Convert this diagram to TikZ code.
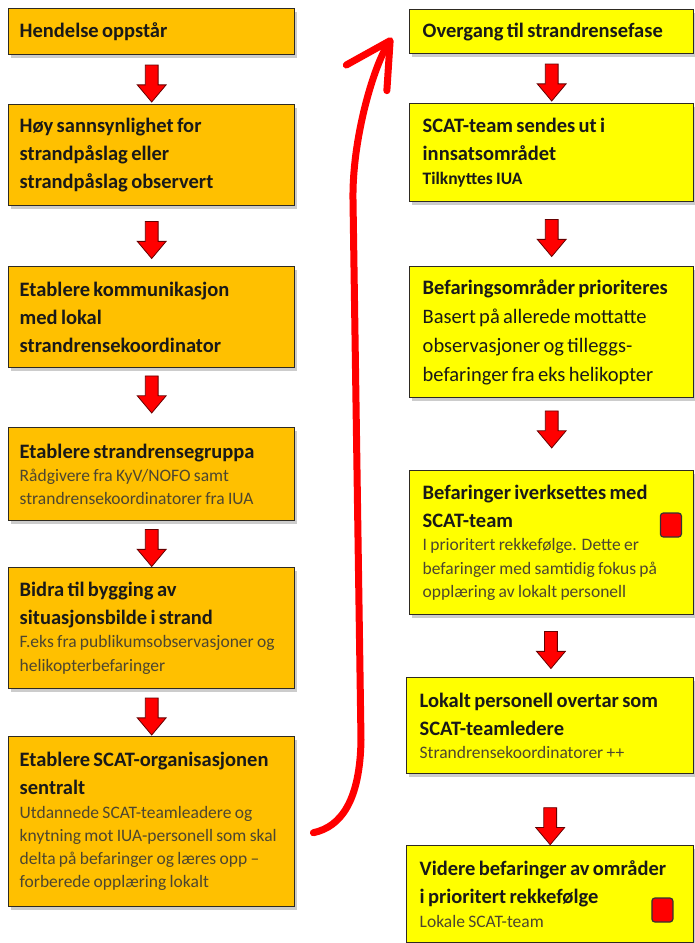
\documentclass[tikz,border=0pt]{standalone}
\usepackage{fontspec}
\setmainfont{Carlito}
\usetikzlibrary{shapes.arrows,shadows,arrows.meta,calc}
\definecolor{boxorange}{HTML}{FFC000}
\definecolor{boxyellow}{HTML}{FFFF00}
\definecolor{boxline}{HTML}{2E2A22}
\definecolor{notegray}{HTML}{4D4630}
\newcommand\headfont{\fontsize{20.5}{28}\selectfont\bfseries}
\newcommand\bodyfont{\fontsize{20.5}{29}\selectfont\mdseries}
\newcommand\notefont{\fontsize{17.5}{23.3}\selectfont\mdseries\color{notegray}}
\newcommand\tagfont{\fontsize{17.5}{23.3}\selectfont\bfseries}

\begin{document}
\begin{tikzpicture}[x=1pt,y=-1pt,
    flowbox/.style={draw=boxline,line width=1.4pt,anchor=north west,align=left,
      inner ysep=3pt,text=black!90,
      drop shadow={shadow xshift=2.5pt,shadow yshift=-3.5pt,opacity=0.4}},
    leftbox/.style={flowbox,fill=boxorange,inner xsep=11pt,text width=264pt},
    rightbox/.style={flowbox,fill=boxyellow,inner xsep=13pt,text width=258pt},
    downarrow/.style={single arrow,draw=black!60!red,fill=red,line width=0.8pt,
      inner sep=6pt,shape border rotate=270,minimum height=37pt,minimum width=28pt,
      single arrow head extend=8pt,single arrow tip angle=80},
    flag/.style={draw=black!80,fill=red,rounded corners=3pt,line width=1.2pt,
      inner sep=0pt,minimum width=21pt,minimum height=24pt},
    bigarrow/.style={draw=red,line width=7pt,line cap=round,line join=round,
      -{Straight Barb[round,length=44pt,width=48pt]}}]
  \useasboundingbox (0,0) rectangle (694,943);
  % Left column
  \node[leftbox,minimum height=46pt] (l1) at (8,8) {\headfont Hendelse oppstår\par};
  \node[leftbox,minimum height=101pt] (l2) at (8,104)
    {\headfont Høy sannsynlighet for\\ strandpåslag eller\\ strandpåslag observert\par};
  \node[leftbox,minimum height=101pt] (l3) at (8,266)
    {\headfont Etablere kommunikasjon\\ med lokal\\ strandrensekoordinator\par};
  \node[leftbox,minimum height=93pt] (l4) at (8,427)
    {\headfont Etablere strandrensegruppa\par
     \notefont Rådgivere fra KyV/NOFO samt\\ strandrensekoordinatorer fra IUA\par};
  \node[leftbox,minimum height=121pt] (l5) at (8,567)
    {\headfont Bidra til bygging av\\ situasjonsbilde i strand\par
     \notefont F.eks fra publikumsobservasjoner og\\ helikopterbefaringer\par};
  \node[leftbox,minimum height=170pt] (l6) at (8,736)
    {\headfont Etablere SCAT-organisasjonen\\ sentralt\par
     \notefont Utdannede SCAT-teamleadere og\\ knytning mot IUA-personell som skal\\
     delta på befaringer og læres opp –\\ forberede opplæring lokalt\par};
  % Right column
  \node[rightbox,minimum height=44pt] (r1) at (409,9) {\headfont Overgang til strandrensefase\par};
  \node[rightbox,minimum height=98pt] (r2) at (409,103)
    {\headfont SCAT-team sendes ut i\\ innsatsområdet\par
     \tagfont Tilknyttes IUA\par};
  \node[rightbox,minimum height=131pt] (r3) at (409,266)
    {\headfont Befaringsområder prioriteres\par
     \bodyfont Basert på allerede mottatte\\ observasjoner og tilleggs-\\ befaringer fra eks helikopter\par};
  \node[rightbox,minimum height=144pt] (r4) at (409,470)
    {\headfont Befaringer iverksettes med\\ SCAT-team\par
     \notefont I prioritert rekkefølge. Dette er\\ befaringer med samtidig fokus på\\ opplæring av lokalt personell\par};
  \node[rightbox,minimum height=96pt,text width=261pt] (r5) at (406,677)
    {\headfont Lokalt personell overtar som\\ SCAT-teamledere\par
     \notefont Strandrensekoordinatorer ++\par};
  \node[rightbox,minimum height=97pt,text width=261pt] (r6) at (406,845)
    {\headfont Videre befaringer av områder\\ i prioritert rekkefølge\par
     \notefont Lokale SCAT-team\par};
  % Red markers
  \node[flag] (f4) at ($(r4.north east)+(-23.5,55)$) {};
  \node[flag] (f6) at ($(r6.north east)+(-32,65)$) {};
  % Block arrows between boxes
  \foreach \a/\b/\p in {l1/l2/0.5,l2/l3/0.5,l3/l4/0.38,l4/l5/0.5,l5/l6/0.5,
                        r1/r2/0.5,r2/r3/0.5,r3/r4/0.38,r4/r5/0.5,r5/r6/0.68}
    \path (\a.south) -- (\b.north) node[pos=\p,downarrow] {};
  % Transition arrow
  \coordinate (cs) at ($(l6.east)+(18,11)$);
  \coordinate (ce) at ($(r1.west)+(-17,6)$);
  \coordinate (bend1) at (361,740);
  \coordinate (bend2) at (353,200);
  \draw[bigarrow] (cs) .. controls +(28,-6) and +(-1,60) .. (bend1)
    -- (bend2) .. controls +(-1,-60) and ($(ce)+(-19,30)$) .. (ce);
\end{tikzpicture}
\end{document}
